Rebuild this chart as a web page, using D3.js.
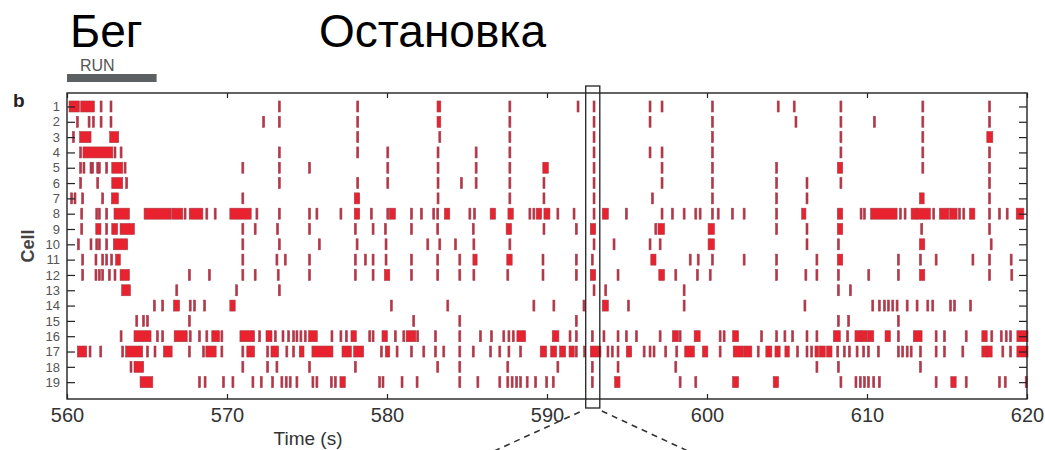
<!DOCTYPE html>
<html>
<head>
<meta charset="utf-8">
<script src="https://cdn.jsdelivr.net/npm/d3@7"></script>
<style>
  body { margin: 0; background: #fff; }
  svg { display: block; font-family: "Liberation Sans", Arial, sans-serif; }
</style>
</head>
<body>
<svg id="chart" width="1045" height="450"></svg>
<script>
// spike times in seconds; a pair [start, end] is a burst
const cell01 = [[560.19, 560.71], [560.92, 561.65], 562.13, 562.75, 573.27, 578.17, [583.19, 583.3], 587.68, 591.94, 592.94, 596.44, 597.19, 600.34, 604.45, 605.45, 608.37, 613.49, 617.66];
const cell02 = [560.65, 561.38, 561.65, 562.13, 562.75, 572.29, 573.27, 578.17, [583.19, 583.3], 587.68, 592.94, 596.44, 600.34, 605.56, 608.37, 610.46, 613.49, 617.66];
const cell03 = [560.4, [560.85, 561.44], [562.73, 563.17], 578.17, 583.3, 587.68, 592.94, 600.34, 608.37, 613.49, [617.55, 617.8]];
const cell04 = [560.85, [561.06, 562.8], 563.0, 563.38, 573.27, 578.17, 580.05, 583.19, 585.57, 587.68, 592.94, 596.44, 597.19, 600.34, 608.37, 613.49, 617.66];
const cell05 = [560.85, 561.06, 561.5, 561.6, 561.92, 562.02, 562.48, [562.86, 563.42], 563.63, 570.99, 573.27, 575.16, 580.05, 583.19, 585.57, 587.68, [589.8, 590.02], 592.94, 597.19, 600.34, 604.35, [608.21, 608.42], 613.49, 617.66];
const cell06 = [560.85, 561.92, [562.86, 563.42], 563.73, 573.27, 578.17, 580.05, 583.19, 584.65, 585.57, 587.68, 589.81, 592.94, 597.19, 600.34, 604.35, 606.25, 608.37, 617.66];
const cell07 = [560.29, 560.5, 560.98, 562.23, [562.84, 563.15], 570.99, [578.02, 578.23], 583.19, 587.68, 589.81, 592.94, 596.59, 600.34, 604.35, 606.25, [613.34, 613.51], 617.66];
const cell08 = [560.92, 561.86, 562.02, 562.48, [563.0, 563.84], [564.88, 566.44], [566.61, 567.17], 567.38, [567.7, 568.43], 568.74, 569.26, [570.24, 571.45], 571.87, 573.27, 575.16, 575.62, 577.12, [578.02, 578.23], 579.02, 580.05, [580.21, 580.46], 581.53, 582.15, 582.92, 583.17, [583.65, 583.86], 585.18, 585.47, [586.51, 586.72], [587.62, 587.83], 588.93, 589.18, [589.39, 589.6], [589.87, 590.12], 590.68, 591.69, 592.94, [593.52, 593.77], 594.96, 597.19, 597.84, 598.57, 599.3, 599.57, 600.34, 600.7, 601.59, 602.32, 604.35, [605.98, 606.12], [608.21, 608.42], 609.63, 609.84, [610.29, 611.82], 612.09, 612.38, [612.82, 613.07], [613.17, 613.9], 614.17, [614.59, 615.05], [615.22, 615.57], 615.78, 616.05, [616.47, 616.68], 617.66, 618.28, 618.76, [619.39, 619.74]];
const cell09 = [560.92, [561.86, 562.06], 562.48, [562.86, 563.1], [563.38, 564.15], 570.99, 571.76, 573.16, 575.16, 578.02, 579.13, 579.9, 581.53, 583.17, 585.39, [587.51, 587.72], 589.81, 591.83, [592.77, 592.98], 596.8, [597.0, 597.28], [600.13, 600.4], 604.35, 606.25, [608.21, 608.42], 613.42, 617.66];
const cell10 = [560.71, 561.5, 561.86, 562.02, 562.48, [562.96, 563.73], 570.99, 573.27, 575.77, 578.13, 579.94, 582.55, 583.3, 584.28, 585.43, 587.68, 592.94, 594.19, 596.44, 597.07, [600.13, 600.4], 606.25, 608.21, [613.34, 613.55], 617.76];
const cell11 = [560.98, 561.81, 562.23, 562.48, 562.79, [563.1, 563.27], 570.99, 573.12, 573.64, 575.16, 578.02, 578.65, 579.13, 579.94, 581.53, 583.17, 584.55, [585.43, 585.57], [587.55, 587.76], 589.75, 591.83, 592.83, [596.55, 596.75], 598.95, 599.45, 600.34, 602.32, 604.35, 606.87, [608.21, 608.42], 611.96, 613.34, 614.32, 616.62, 617.66, 619.01];
const cell12 = [560.98, 561.81, 562.02, 562.23, 562.65, 563.0, [563.38, 563.84], 567.65, 568.9, 570.99, 571.76, 573.2, 575.16, 578.02, 579.13, [579.9, 580.11], 581.53, 583.17, 584.55, 585.43, 587.55, 589.75, 591.83, [592.77, 592.98], 594.44, [597.05, 597.28], 598.05, 599.4, 600.2, 604.35, 606.18, 606.87, 608.21, 610.11, 611.96, [613.34, 613.55], 617.66, 619.05];
const cell13 = [[563.48, 563.9], 566.86, 570.6, 573.27, 592.94, 593.67, 598.57, 608.21, 608.96];
const cell14 = [565.46, 565.98, [566.72, 566.97], 567.7, 567.97, 568.6, [570.24, 570.45], 580.27, 583.8, 589.18, 590.43, 592.31, [593.52, 593.77], 595.09, 598.57, 606.12, 610.36, 610.77, 611.09, 611.34, 611.61, 611.88, 612.51, 613.13, 613.8, 614.11, 615.22, 615.47, 616.47];
const cell15 = [564.36, 564.78, 565.03, 567.65, 581.67, 584.55, 591.83, 608.21, 608.85, 611.96];
const cell16 = [563.38, [564.25, 565.19], 565.65, 565.98, [566.76, 567.45], 567.7, 568.28, 568.74, [569.11, 569.47], 569.68, [570.87, 571.66], 572.04, [572.5, 572.75], 573.02, 573.5, 573.85, 574.16, 574.37, 574.62, 574.89, [575.16, 575.58], 576.56, 577.12, 577.46, [577.81, 578.02], 578.92, 579.13, [579.75, 579.96], 580.52, 581.05, [581.26, 581.74], 581.92, 583.03, 584.55, 585.84, 586.53, 587.3, 587.62, 587.89, [588.18, 588.6], [590.39, 590.68], 591.44, 591.83, 592.83, 593.56, 594.44, 594.96, 595.59, 597.07, [597.9, 598.15], 598.32, [599.26, 599.51], 600.82, 601.07, [601.66, 601.91], 603.41, 604.35, 604.87, 605.35, 606.25, 606.87, [607.96, 608.27], 608.79, [609.31, 609.58], [609.67, 609.94], [610.09, 610.36], [611.19, 611.4], 611.96, [612.96, 613.38], 614.32, 614.84, 616.2, [617.24, 617.45], 617.8, 618.39, 618.7, 618.97, [619.43, 620.0]];
const cell17 = [[560.71, 561.17], 561.44, 562.11, 563.48, [563.73, 564.67], 565.03, 565.5, [566.09, 566.51], 567.65, 568.53, [568.74, 569.26], 569.68, 570.99, [571.3, 571.66], 572.54, [572.81, 573.16], 573.74, 574.16, [574.58, 574.75], [575.37, 576.56], [577.25, 577.71], [577.98, 578.48], 579.65, [579.96, 580.11], 580.63, 581.53, 582.3, 583.03, 583.55, 584.55, 585.39, 586.47, 587.05, 587.62, 588.35, [589.64, 589.91], [590.29, 590.54], [590.85, 591.1], [591.44, 591.64], 591.83, 592.35, [592.77, 593.31], 593.81, 594.08, 594.44, [595.02, 595.23], 596.07, 596.44, 596.69, 597.42, 598.11, [598.67, 599.15], [599.78, 599.99], 600.82, [601.7, 602.22], [602.37, 602.74], 603.2, [603.74, 603.99], [604.31, 604.51], [604.93, 605.08], 605.66, 606.25, 606.54, [606.81, 606.91], [607.08, 607.33], [607.54, 607.75], 608.17, 608.58, 608.9, 609.38, 609.79, 610.09, 610.71, 611.96, 612.23, 612.51, 612.76, 613.34, 614.32, 614.84, 615.99, [617.24, 617.45], [617.55, 617.76], 618.49, 618.97, [619.43, 620.0]];
const cell18 = [564.0, [564.25, 564.73], 570.99, 572.54, 573.12, 575.16, 578.02, 583.17, 584.55, 587.55, 590.68, 592.83, 594.44, 598.05, 606.87, 608.21, 613.34];
const cell19 = [[564.63, 565.3], 568.28, 568.63, 569.78, 570.37, 571.62, 572.14, 572.85, 573.43, 573.7, 573.95, 574.37, 575.37, 575.62, 576.52, 576.77, [577.12, 577.33], 579.54, 579.75, 580.94, 581.88, 584.55, 585.68, 587.05, 587.55, 587.82, 588.1, 588.35, 588.76, 589.29, 589.98, 590.39, 592.83, [594.29, 594.5], 598.32, 599.3, [601.66, 601.91], [604.2, 604.41], 608.37, 609.31, 609.58, 609.84, 610.09, 610.42, 610.77, 614.32, [615.3, 615.51], 616.2, 618.28, 618.64, 619.95];

const cellIds = [1, 2, 3, 4, 5, 6, 7, 8, 9, 10, 11, 12, 13, 14, 15, 16, 17, 18, 19];
const cellSpikes = [cell01, cell02, cell03, cell04, cell05, cell06, cell07, cell08, cell09, cell10,
  cell11, cell12, cell13, cell14, cell15, cell16, cell17, cell18, cell19];
const timeTicks = [560, 570, 580, 590, 600, 610, 620];
const runPeriod = [560, 565.6];
const zoomWindow = [592.42, 593.3];

const svg = d3.select("#chart");

const x = d3.scaleLinear().domain([560, 620]).range([67, 1027]);
const y = d3.scaleLinear().domain([0.12, 20.1]).range([93, 399]);

// header
svg.append("text").attr("x", 70).attr("y", 47)
  .attr("font-size", 46).attr("fill", "#000").text("Бег");
svg.append("text").attr("x", 319).attr("y", 47)
  .attr("font-size", 46).attr("fill", "#000").text("Остановка");

svg.append("text").attr("x", 80).attr("y", 71)
  .attr("font-size", 16).attr("fill", "#555").text("RUN");
svg.append("rect")
  .attr("x", x(runPeriod[0])).attr("y", 74)
  .attr("width", x(runPeriod[1]) - x(runPeriod[0])).attr("height", 8)
  .attr("fill", "#5d6062");

svg.append("text").attr("x", 13).attr("y", 107)
  .attr("font-size", 19).attr("font-weight", "bold").attr("fill", "#222").text("b");

// spikes
const events = [];
cellSpikes.forEach((list, i) => {
  list.forEach((s) => {
    const burst = Array.isArray(s);
    events.push({ cell: cellIds[i], t0: burst ? s[0] : s, t1: burst ? s[1] : s, burst });
  });
});

const spikeH = 11;
svg.append("g")
  .selectAll("rect")
  .data(events)
  .join("rect")
  .attr("x", (d) => x(d.t0) - 1)
  .attr("y", (d) => y(d.cell) - spikeH / 2)
  .attr("width", (d) => Math.max(2, x(d.t1) - x(d.t0) + 2))
  .attr("height", spikeH)
  .attr("fill", (d) => (d.burst ? "#e8232f" : "#b8354a"))
  .attr("stroke", "#a63a46")
  .attr("stroke-width", 0.6);

// axes
const axisB = svg.append("g")
  .attr("transform", `translate(0,${y.range()[1]})`)
  .call(d3.axisBottom(x).tickValues(timeTicks).tickSize(-5).tickPadding(9).tickFormat(d3.format("d")));
const axisT = svg.append("g")
  .attr("transform", `translate(0,${y.range()[0]})`)
  .call(d3.axisTop(x).tickValues(timeTicks).tickSize(-5).tickFormat(""));
const axisL = svg.append("g")
  .attr("transform", `translate(${x.range()[0]},0)`)
  .call(d3.axisLeft(y).tickValues(cellIds).tickSize(-8).tickPadding(7));
const axisR = svg.append("g")
  .attr("transform", `translate(${x.range()[1]},0)`)
  .call(d3.axisRight(y).tickValues(cellIds).tickSize(-8).tickFormat(""));

[axisB, axisT, axisL, axisR].forEach((g) => {
  g.select(".domain").remove();
  g.selectAll(".tick line").attr("stroke", "#222").attr("stroke-width", 1.2);
});
axisB.selectAll(".tick text")
  .attr("font-size", 20).attr("fill", "#333").attr("font-family", "Liberation Sans, Arial, sans-serif");
axisL.selectAll(".tick text")
  .attr("font-size", 13).attr("fill", "#555").attr("font-family", "Liberation Sans, Arial, sans-serif");

svg.append("rect")
  .attr("x", x.range()[0]).attr("y", y.range()[0])
  .attr("width", x.range()[1] - x.range()[0]).attr("height", y.range()[1] - y.range()[0])
  .attr("fill", "none").attr("stroke", "#222").attr("stroke-width", 1.4);

svg.append("text").attr("x", 308).attr("y", 445)
  .attr("text-anchor", "middle").attr("font-size", 19).attr("fill", "#333").text("Time (s)");

svg.append("text")
  .attr("transform", "translate(34,246) rotate(-90)")
  .attr("text-anchor", "middle").attr("font-size", 18).attr("font-weight", "bold")
  .attr("fill", "#444").text("Cell");

// zoom window and its dashed guides
svg.append("rect")
  .attr("x", x(zoomWindow[0])).attr("y", 86)
  .attr("width", x(zoomWindow[1]) - x(zoomWindow[0])).attr("height", 322)
  .attr("fill", "none").attr("stroke", "#222").attr("stroke-width", 1.3);
svg.append("line")
  .attr("x1", x(zoomWindow[0]) - 6).attr("y1", 412).attr("x2", 492).attr("y2", 452)
  .attr("stroke", "#333").attr("stroke-width", 1.6).attr("stroke-dasharray", "6,5");
svg.append("line")
  .attr("x1", x(zoomWindow[1]) + 2).attr("y1", 411).attr("x2", 690).attr("y2", 452)
  .attr("stroke", "#333").attr("stroke-width", 1.6).attr("stroke-dasharray", "6,5");
</script>
</body>
</html>
